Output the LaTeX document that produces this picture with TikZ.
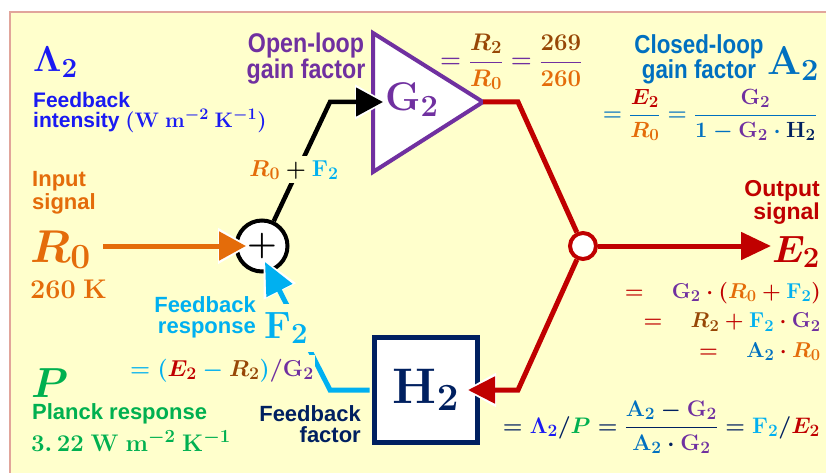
\RequirePackage{fix-cm}
\documentclass[tikz,border=0pt]{standalone}
\usepackage[no-math]{fontspec}
\setmainfont{Liberation Sans}
\newfontfamily\narrowsf{Liberation Sans}[FakeStretch=0.86]
\usetikzlibrary{arrows.meta}
\renewcommand\defaultscriptratio{.77}
\definecolor{bgy}{RGB}{255,255,204}
\definecolor{bord}{RGB}{225,165,155}
\definecolor{lb}{RGB}{26,26,242}
\definecolor{gp}{RGB}{112,48,160}
\definecolor{oc}{RGB}{228,108,10}
\definecolor{brn}{RGB}{151,71,6}
\definecolor{cy}{RGB}{0,176,240}
\definecolor{rd}{RGB}{192,0,0}
\definecolor{ab}{RGB}{0,112,192}
\definecolor{navy}{RGB}{0,32,96}
\definecolor{gr}{RGB}{0,176,80}
\newcommand\mG{{\color{gp}\mathbf{G}_{\mathbf 2}}}
\newcommand\mH{{\color{navy}\mathbf{H}_{\mathbf 2}}}
\newcommand\mF{{\color{cy}\mathbf{F}_{\mathbf 2}}}
\newcommand\mA{{\color{ab}\mathbf{A}_{\mathbf 2}}}
\newcommand\mL{{\color{lb}\mathbf{\Lambda}_{\mathbf 2}}}
\newcommand\mRz{{\color{oc}R_{\mathbf 0}}}
\newcommand\mRt{{\color{brn}R_{\mathbf 2}}}
\newcommand\mE{{\color{rd}E_{\mathbf 2}}}
\newcommand\mP{{\color{gr}P}}
\begin{document}
\begin{tikzpicture}[x=1pt,y=-1pt,
  lbl/.style={inner sep=0pt, font=\bfseries\fontsize{22}{21}\selectfont},
  mth/.style={inner sep=0pt, font=\boldmath\fontsize{#1}{#1}\selectfont},
  wire/.style={line width=5pt}]
\useasboundingbox (0,0) rectangle (826,473);
\fill[white] (0,0) rectangle (826,473);
\filldraw[fill=bgy, draw=bord, line width=1.5pt] (10,12) rectangle (840,490);

% ---------- left labels ----------
\node[mth=36, anchor=base west] (lam) at (33,72) {$\mL$};
\node[lbl, anchor=north west, align=left, text=lb, font=\bfseries\fontsize{21}{20}\selectfont] (fbi) at (33,92)
  {Feedback\\intensity {\fontsize{21}{21}\selectfont\boldmath$(\mathbf{W\ m^{-2}\ K^{-1}})$}};
\node[lbl, anchor=north west, align=left, text=oc, font=\bfseries\fontsize{22}{23}\selectfont] (ins) at (32,171) {Input\\signal};
\node[mth=46, anchor=base west] (R0) at (30,262) {$\mRz$};
\node[mth=27, anchor=base west, text=oc] (r0v) at (30,298) {$\mathbf{260\ K}$};
\node[mth=42, anchor=base west] (P) at (31,397) {$\mP$};
\node[lbl, anchor=base west, text=gr] (plk) at (32,419) {Planck response};
\node[mth=24, anchor=base west, text=gr] (pval) at (31,451) {$\mathbf{3.\,22\ W\ m^{-2}\ K^{-1}}$};

% ---------- G2 triangle ----------
\node[anchor=north, align=center, inner sep=0pt, text=gp, font=\narrowsf\bfseries\fontsize{27}{25}\selectfont] (olg) at (306,33) {Open-loop\\gain factor};
\draw[draw=gp, fill=white, line width=4pt] (373,33) -- (483,102) -- (373,172) -- cycle;
\node[mth=40, anchor=base west, text=gp] (G) at (385,111) {$\mathbf{G}_{\mathbf 2}$};
\coordinate (Gin) at (383,102);
\coordinate (Gout) at (483,102);
\node[mth=24, anchor=base west, text=gp] (olf) at (440,68)
  {$\displaystyle=\frac{\mRt}{\mRz}=\frac{{\color{brn}\mathbf{269}}}{{\color{oc}\mathbf{260}}}$};

% ---------- closed loop ----------
\node[anchor=north, align=center, inner sep=0pt, text=ab, font=\narrowsf\bfseries\fontsize{26}{21}\selectfont] (cll) at (699,34) {Closed-loop\\gain factor};
\node[mth=40, anchor=base west, text=ab] (A2) at (767,75) {$\mathbf{A}_{\mathbf 2}$};
\node[mth=22, anchor=base east, text=ab] (clf) at (817,121)
  {$\displaystyle=\frac{\mE}{\mRz}=\frac{\mG}{1-\mG\cdot\mH}$};

% ---------- summing junction ----------
\node[circle, draw=black, line width=4pt, fill=white, minimum size=51pt, inner sep=0pt, font=\boldmath\fontsize{34}{34}\selectfont] (sum) at (262,246) {$+$};
\coordinate (bk) at (330,102);
\coordinate (inL) at (103,246);
\draw[white, line width=4.5pt, -{Triangle[length=31pt,width=34pt]}] (bk) -- ([xshift=3pt]Gin);
\draw[line width=4.5pt, -{Triangle[length=27pt,width=28pt]}] (sum) -- (bk) -- (Gin);
\node[mth=23, fill=bgy, inner sep=4pt, anchor=base] (sumlbl) at (294,176) {$\mRz+\mF$};
\draw[white, line width=5pt, -{Triangle[length=31pt,width=35pt]}] (inL) -- ([xshift=-13pt]sum.center);
\draw[oc, line width=5pt, -{Triangle[length=27pt,width=28pt]}] (inL) -- ([xshift=-16pt]sum.center);

% ---------- H2 box ----------
\node[draw=navy, line width=5pt, fill=white, minimum width=103pt, minimum height=105pt, inner sep=0pt,
      font=\boldmath\fontsize{50}{50}\selectfont, text=navy] (H) at (426,390) {$\mathbf{H}_{\mathbf 2}$};
\node[lbl, anchor=north east, align=right, text=navy] (fbf) at (361,405) {Feedback\\factor};
\node[mth=22.5, anchor=base east, text=navy] (hf) at (820,433)
  {$\displaystyle=\mL/\mP=\frac{\mA-\mG}{\mA\cdot\mG}=\mF/\mE$};

% ---------- feedback (cyan) ----------
\coordinate (fbk) at (330,390);
\coordinate (fbtip) at (265,262);
\coordinate (fbtipw) at (263.6,259.3);
\draw[white, line width=5pt, -{Triangle[length=36pt,width=35pt]}] (fbk) -- (fbtipw);
\draw[cy, line width=5pt, -{Triangle[length=32pt,width=28pt]}] ([xshift=-2.5pt]H.west) -- (fbk) -- (fbtip);
\node[lbl, anchor=north east, align=right, text=cy] (fbr) at (256,296) {Feedback\\response};
\node[mth=38, anchor=base west, fill=bgy, inner xsep=7pt, inner ysep=8pt] (F2) at (257,338) {$\mF$};
\node[mth=23, anchor=base west, fill=bgy, inner xsep=1pt, inner ysep=4pt, text=cy] (fbrf) at (129,376)
  {$=(\mE-\mRt){\color{gp}/}\mG$};

% ---------- output (red) ----------
\node[circle, draw=rd, line width=4pt, fill=white, minimum size=26pt, inner sep=0pt] (br) at (583,246) {};
\coordinate (rc1) at (518,102);
\coordinate (rc2) at (518,390);
\coordinate (Etip) at (771,246);
\coordinate (Htip) at (468,390);
\draw[rd, line width=5pt] (Gout) -- (rc1) -- (br);
\draw[rd, line width=5pt, -{Triangle[length=30pt,width=27pt]}] (br) -- (Etip);
\draw[white, line width=5pt, -{Triangle[length=31pt,width=33pt]}] (rc2) -- ([xshift=-3pt]Htip);
\draw[rd, line width=5pt, -{Triangle[length=27pt,width=26pt]}] (br) -- (rc2) -- (Htip);
\node[lbl, anchor=north east, align=right, text=rd, font=\bfseries\fontsize{23}{23}\selectfont] (outl) at (820,180) {Output\\signal};
\node[mth=38, anchor=base east] (E2) at (820,262) {$\mE$};
\node[anchor=north east, align=right, inner sep=0pt, text=rd, font=\boldmath\fontsize{21.5}{29.5}\selectfont] (outf) at (821,282)
  {$=\quad\mG\cdot(\mRz+\mF)$\\$=\quad\mRt+\mF\cdot\mG$\\$=\quad\mA\cdot\mRz$};
\end{tikzpicture}
\end{document}
